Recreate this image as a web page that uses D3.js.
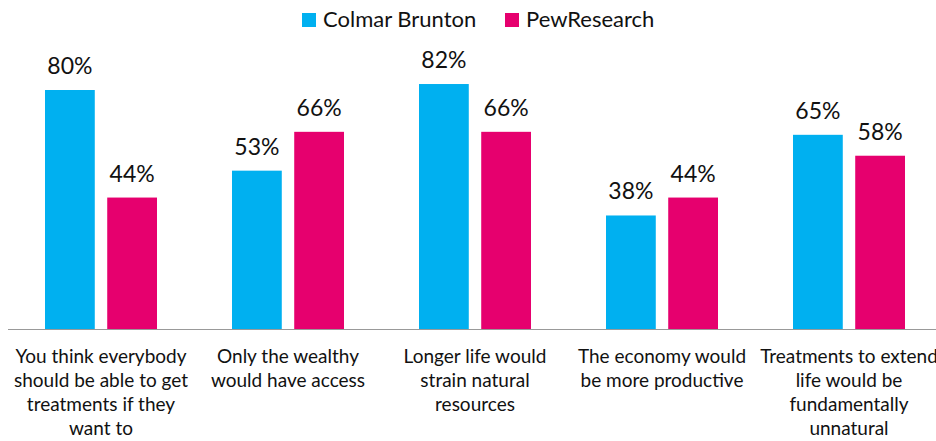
<!DOCTYPE html>
<html>
<head>
<meta charset="utf-8">
<script src="https://cdn.jsdelivr.net/npm/d3@7"></script>
<style>
  html, body { margin: 0; padding: 0; background: #fff; }
  svg { display: block; }
</style>
</head>
<body>
<svg id="chart" width="936" height="441"></svg>
<script>
// Survey statements (line breaks as shown under each group)
const categories = [
  ["You think everybody", "should be able to get", "treatments if they", "want to"],
  ["Only the wealthy", "would have access"],
  ["Longer life would", "strain natural", "resources"],
  ["The economy would", "be more productive"],
  ["Treatments to extend", "life would be", "fundamentally", "unnatural"]
];
const seriesNames = ["Colmar Brunton", "PewResearch"];
const colmarBrunton = [80, 53, 82, 38, 65];
const pewResearch = [44, 66, 66, 44, 58];
const seriesColors = ["#00B0F0", "#E6006E"];

const font = "Lato, 'Open Sans', sans-serif";
const svg = d3.select("#chart");

// The plot runs slightly past the right edge of the canvas
const baseline = 329;
const x0 = d3.scaleBand()
  .domain(d3.range(categories.length))
  .range([7.5, 942.5])
  .paddingInner(0)
  .paddingOuter(0);

const x1 = d3.scaleBand()
  .domain(d3.range(seriesNames.length))
  .range([0, 112])
  .paddingInner(0.2);

const y = d3.scaleLinear().domain([0, 80]).range([baseline, 90]);

const rows = categories.map((c, i) => ({
  i, values: [colmarBrunton[i], pewResearch[i]]
}));

const groups = svg.selectAll("g.group")
  .data(rows)
  .join("g")
  .attr("class", "group")
  .attr("transform", d => `translate(${x0(d.i) + x0.bandwidth() / 2 - 56},0)`);

groups.selectAll("rect")
  .data(d => d.values.map((v, s) => ({ v, s })))
  .join("rect")
  .attr("x", d => x1(d.s))
  .attr("width", x1.bandwidth())
  .attr("y", d => y(d.v))
  .attr("height", d => baseline - y(d.v))
  .attr("fill", d => seriesColors[d.s]);

groups.selectAll("text.value")
  .data(d => d.values.map((v, s) => ({ v, s })))
  .join("text")
  .attr("class", "value")
  .attr("x", d => x1(d.s) + x1.bandwidth() / 2)
  .attr("y", d => y(d.v) - 16)
  .attr("text-anchor", "middle")
  .attr("font-family", font)
  .attr("font-size", 23)
  .attr("fill", "#111")
  .text(d => d.v + "%");

// Baseline axis
const xAxis = d3.axisBottom(x0).tickSize(0).tickFormat("");
svg.append("g")
  .attr("transform", `translate(0,${baseline})`)
  .call(xAxis)
  .call(g => g.select(".domain").attr("stroke", "#999").attr("stroke-width", 1.2));

// Category labels
const labels = svg.selectAll("text.cat")
  .data(categories)
  .join("text")
  .attr("class", "cat")
  .attr("text-anchor", "middle")
  .attr("font-family", font)
  .attr("font-size", 19)
  .attr("fill", "#111");

labels.each(function (lines, i) {
  d3.select(this).selectAll("tspan")
    .data(lines)
    .join("tspan")
    .attr("x", x0(i) + x0.bandwidth() / 2)
    .attr("y", (d, k) => 363 + k * 24)
    .text(d => d);
});

// Legend
const legendItems = [
  { name: seriesNames[0], color: seriesColors[0], x: 302 },
  { name: seriesNames[1], color: seriesColors[1], x: 505 }
];
const legend = svg.selectAll("g.legend")
  .data(legendItems)
  .join("g")
  .attr("class", "legend")
  .attr("transform", d => `translate(${d.x},0)`);
legend.append("rect")
  .attr("x", 0).attr("y", 13)
  .attr("width", 14).attr("height", 14)
  .attr("fill", d => d.color);
legend.append("text")
  .attr("x", 21).attr("y", 27)
  .attr("font-family", font)
  .attr("font-size", 22)
  .attr("fill", "#111")
  .text(d => d.name);
</script>
</body>
</html>
